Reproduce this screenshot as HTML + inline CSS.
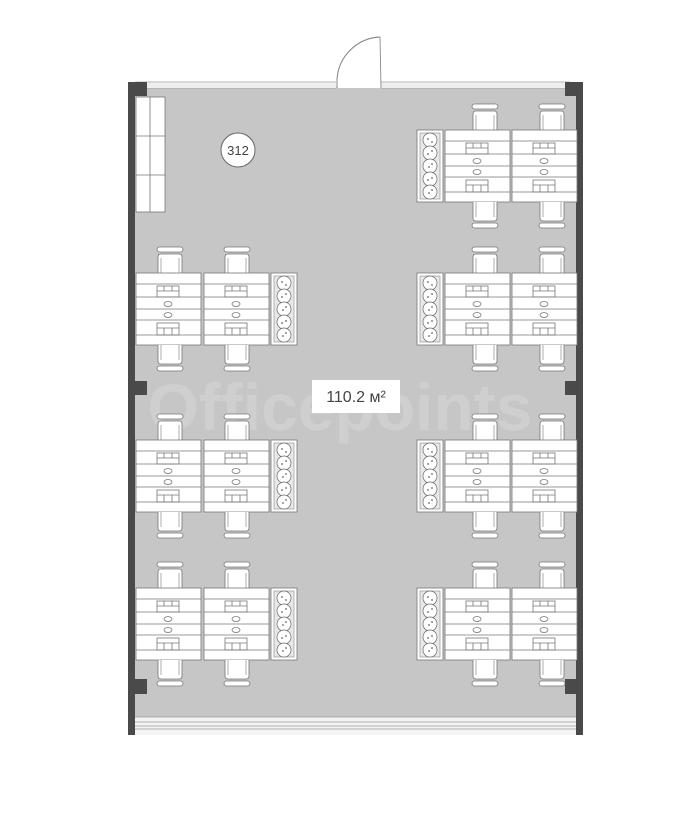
<!DOCTYPE html>
<html><head><meta charset="utf-8"><style>
html,body{margin:0;padding:0;background:#fff;width:683px;height:819px;overflow:hidden}
svg{display:block}
</style></head><body>
<svg width="683" height="819" viewBox="0 0 683 819" xmlns="http://www.w3.org/2000/svg">
<defs>
  <g id="desk">
    <rect x="0" y="0" width="65" height="72" fill="#fff" stroke="#777" stroke-width="0.8"/>
    <g stroke="#777" stroke-width="0.8" fill="none">
      <line x1="0" y1="11" x2="65" y2="11"/>
      <line x1="0" y1="24" x2="65" y2="24"/>
      <line x1="0" y1="36" x2="65" y2="36"/>
      <line x1="0" y1="47" x2="65" y2="47"/>
      <line x1="0" y1="62" x2="65" y2="62"/>
      <rect x="21" y="13" width="22" height="11"/>
      <line x1="21" y1="18" x2="43" y2="18"/>
      <line x1="28" y1="13" x2="28" y2="18"/><line x1="36" y1="13" x2="36" y2="18"/>
      <rect x="21" y="50" width="22" height="12"/>
      <line x1="21" y1="55" x2="43" y2="55"/>
      <line x1="28" y1="55" x2="28" y2="62"/><line x1="36" y1="55" x2="36" y2="62"/>
      <ellipse cx="32" cy="31" rx="4" ry="2.5"/>
      <ellipse cx="32" cy="42" rx="4" ry="2.5"/>
    </g>
  </g>
  <g id="chairT">
    <rect x="-13" y="0" width="26" height="5" rx="2.5" fill="#fff" stroke="#777" stroke-width="0.8"/>
    <path d="M-12 26 V10 Q-12 7 -9 7 H9 Q12 7 12 10 V26" fill="#fff" stroke="#777" stroke-width="0.8"/>
    <path d="M-9 26 V11 M9 26 V11" stroke="#777" stroke-width="0.6"/>
  </g>
  <g id="chairB" transform="scale(1,-1)">
    <use href="#chairT"/>
  </g>
  <g id="plant">
    <rect x="0" y="0" width="26" height="72" fill="#fff" stroke="#777" stroke-width="0.8"/>
    <rect x="3" y="3" width="20" height="66" fill="#e8e8e8" stroke="#888" stroke-width="0.6"/>
    <g fill="#fff" stroke="#666" stroke-width="0.7">
      <circle cx="13" cy="10" r="7"/><circle cx="13" cy="23" r="7"/><circle cx="13" cy="36" r="7"/>
      <circle cx="13" cy="49" r="7"/><circle cx="13" cy="62" r="7"/>
    </g>
    <g fill="#888">
      <circle cx="11" cy="9" r="1"/><circle cx="15" cy="12" r="1"/><circle cx="11" cy="24" r="1"/><circle cx="15" cy="21" r="1"/>
      <circle cx="12" cy="37" r="1"/><circle cx="15" cy="34" r="1"/><circle cx="11" cy="50" r="1"/><circle cx="15" cy="48" r="1"/>
      <circle cx="12" cy="63" r="1"/><circle cx="15" cy="60" r="1"/>
    </g>
  </g>
  <!-- right group: plant at 0, desks at 28 and 95 -->
  <g id="grpR">
    <use href="#chairT" x="68" y="-26"/><use href="#chairT" x="135" y="-26"/>
    <use href="#plant" x="0" y="0"/>
    <use href="#desk" x="28" y="0"/><use href="#desk" x="95" y="0"/>
    <use href="#chairB" x="68" y="98"/><use href="#chairB" x="135" y="98"/>
  </g>
  <g id="grpL">
    <use href="#chairT" x="34" y="-26"/><use href="#chairT" x="101" y="-26"/>
    <use href="#desk" x="0" y="0"/><use href="#desk" x="68" y="0"/>
    <use href="#plant" x="135" y="0"/>
    <use href="#chairB" x="34" y="98"/><use href="#chairB" x="101" y="98"/>
  </g>
</defs>

<!-- floor -->
<rect x="134" y="87" width="443" height="630" fill="#c6c6c6"/>
<!-- watermark -->
<text x="340" y="430" text-anchor="middle" font-family="Liberation Sans, sans-serif" font-weight="bold" font-size="66" fill="#cfcfcf">Officepoints</text>

<!-- top wall lines -->
<g stroke="#999" stroke-width="0.8">
  <line x1="135" y1="82" x2="336" y2="82"/><line x1="135" y1="85" x2="336" y2="85"/><line x1="135" y1="88" x2="336" y2="88"/>
  <line x1="381" y1="82" x2="570" y2="82"/><line x1="381" y1="85" x2="570" y2="85"/><line x1="381" y1="88" x2="570" y2="88"/>
</g>
<rect x="134" y="83" width="202" height="5" fill="#eee"/>
<rect x="381" y="83" width="190" height="5" fill="#eee"/>
<!-- door -->
<path d="M337 88 L337 80 A45 45 0 0 1 380 37" fill="#fff" stroke="#888" stroke-width="0.9"/>
<path d="M337 88 L381 88 L381 37" fill="#fff" stroke="none"/>
<line x1="380" y1="37" x2="381" y2="88" stroke="#888" stroke-width="0.9"/>
<path d="M337 88 V80 A45 45 0 0 1 380 37" fill="none" stroke="#888" stroke-width="0.9"/>

<!-- bottom window -->
<rect x="134" y="717" width="443" height="18" fill="#f4f4f4"/>
<g stroke="#999" stroke-width="0.8">
  <line x1="134" y1="717" x2="577" y2="717"/>
  <line x1="134" y1="722" x2="577" y2="722"/>
  <line x1="134" y1="726" x2="577" y2="726"/>
  <line x1="134" y1="729" x2="577" y2="729"/>
</g>

<!-- walls -->
<g fill="#4a4a4a">
  <rect x="128" y="82" width="7" height="653"/>
  <rect x="576" y="82" width="7" height="653"/>
  <rect x="130" y="82" width="17" height="14"/>
  <rect x="565" y="82" width="18" height="14"/>
  <rect x="128" y="381" width="19" height="14"/>
  <rect x="565" y="381" width="18" height="14"/>
  <rect x="128" y="679" width="19" height="15"/>
  <rect x="565" y="679" width="18" height="15"/>
</g>

<!-- shelf -->
<g fill="#fff" stroke="#777" stroke-width="0.8">
  <rect x="136" y="97" width="29" height="115"/>
</g>
<g stroke="#777" stroke-width="0.8">
  <line x1="150" y1="97" x2="150" y2="212"/>
  <line x1="136" y1="136" x2="165" y2="136"/>
  <line x1="136" y1="175" x2="165" y2="175"/>
</g>

<!-- room number -->
<circle cx="238" cy="150" r="17" fill="#fff" stroke="#666" stroke-width="1"/>
<text x="238" y="155" text-anchor="middle" font-family="Liberation Sans, sans-serif" font-size="13" fill="#444">312</text>

<!-- groups -->
<use href="#grpR" x="417" y="130"/>
<use href="#grpR" x="417" y="273"/>
<use href="#grpR" x="417" y="440"/>
<use href="#grpR" x="417" y="588"/>
<use href="#grpL" x="136" y="273"/>
<use href="#grpL" x="136" y="440"/>
<use href="#grpL" x="136" y="588"/>

<!-- area label -->
<rect x="312" y="380" width="88" height="33" fill="#fff"/>
<text x="356" y="402" text-anchor="middle" font-family="Liberation Sans, sans-serif" font-size="16" fill="#444">110.2 м²</text>
</svg>
</body></html>
